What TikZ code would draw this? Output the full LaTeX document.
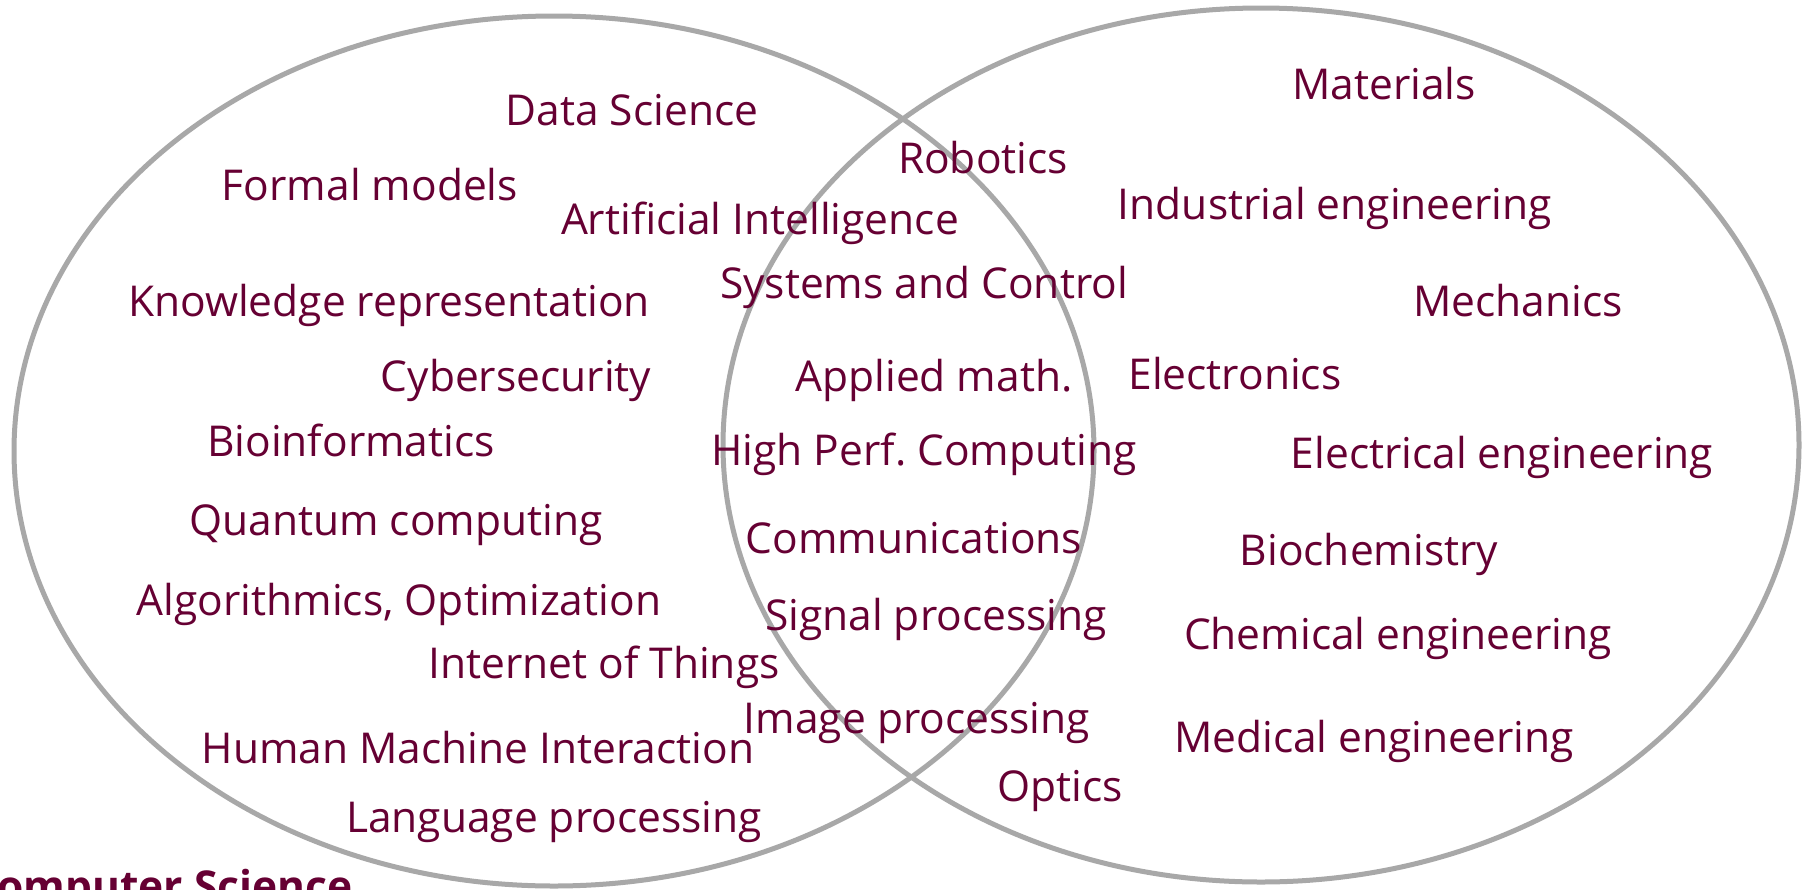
\documentclass[tikz,border=0pt]{standalone}
\usepackage{fontspec}
\setmainfont{Open Sans}
\definecolor{txt}{RGB}{102,0,51}
\definecolor{ring}{RGB}{168,168,168}
\begin{document}
\begin{tikzpicture}[x=1pt,y=-1pt,
  lbl/.style={anchor=base,inner sep=0pt,text=txt,font=\fontsize{42.5}{50}\selectfont},
  ringstyle/.style={draw=ring,line width=5pt}]
\useasboundingbox (0,0) rectangle (1803,889);
\clip (0,0) rectangle (1803,889);
\fill[white] (0,0) rectangle (1803,889);
\draw[ringstyle] (554,451) ellipse [x radius=540, y radius=435];
\draw[ringstyle] (1261,445) ellipse [x radius=538, y radius=437];
\node[lbl] (ds) at (632,125) {Data Science};
\node[lbl] (fm) at (370,200) {Formal models};
\node[lbl] (ai) at (760,234) {Artificial Intelligence};
\node[lbl] (rob) at (983,173) {Robotics};
\node[lbl] (mat) at (1384,99) {Materials};
\node[lbl] (ie) at (1335,219) {Industrial engineering};
\node[lbl] (kr) at (389,316) {Knowledge representation};
\node[lbl] (sc) at (924,298) {Systems and Control};
\node[lbl] (mech) at (1518,316) {Mechanics};
\node[lbl] (cyb) at (516,391) {Cybersecurity};
\node[lbl] (am) at (934,391) {Applied math.};
\node[lbl] (elec) at (1235,389) {Electronics};
\node[lbl] (bio) at (351,456) {Bioinformatics};
\node[lbl] (hpc) at (924,465) {High Perf.\ Computing};
\node[lbl] (ee) at (1502,468) {Electrical engineering};
\node[lbl] (qc) at (396,535) {Quantum computing};
\node[lbl] (com) at (914,553) {Communications};
\node[lbl] (bch) at (1369,565) {Biochemistry};
\node[lbl] (alg) at (399,615) {Algorithmics, Optimization};
\node[lbl] (sp) at (936,630) {Signal processing};
\node[lbl] (che) at (1398,649) {Chemical engineering};
\node[lbl] (iot) at (604,678) {Internet of Things};
\node[lbl] (ip) at (917,733) {Image processing};
\node[lbl] (hmi) at (478,763) {Human Machine Interaction};
\node[lbl] (me) at (1374,752) {Medical engineering};
\node[lbl] (opt) at (1060,801) {Optics};
\node[lbl] (lp) at (554,832) {Language processing};
\node[lbl,anchor=base west,font=\fontsize{42.5}{50}\selectfont\bfseries] (cs) at (-30,901) {Computer Science};
\end{tikzpicture}
\end{document}
